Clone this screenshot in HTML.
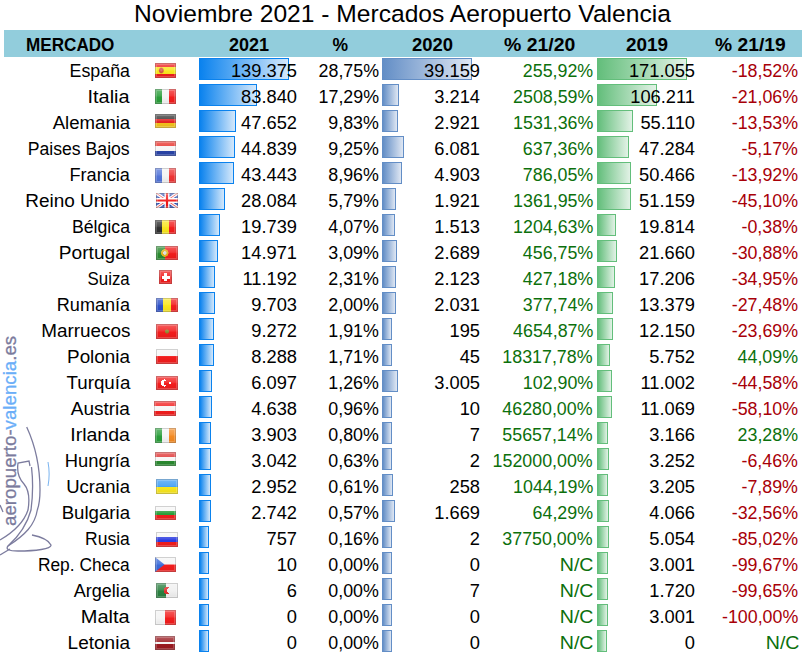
<!DOCTYPE html>
<html><head><meta charset="utf-8"><style>
html,body{margin:0;padding:0;background:#fff;}
body{width:806px;height:660px;position:relative;overflow:hidden;font-family:"Liberation Sans",sans-serif;color:#000;}
.t{position:absolute;white-space:nowrap;line-height:20px;font-size:18.3px;text-align:right;}
.g{color:#0c700c;}
.d{color:#a80008;}
.hd{position:absolute;left:4px;top:30px;width:798px;height:27px;background:#92cddc;}
.h{position:absolute;white-space:nowrap;font-weight:bold;font-size:17.5px;line-height:20px;top:35px;transform-origin:0 0;}
.b1,.b2,.b3{position:absolute;height:20px;border:1px solid;}
.b1{border-color:#0a82ee;background:linear-gradient(to right,#0a82ee,#d4e8fb);}
.b2{border-color:#638ec6;background:linear-gradient(to right,#638ec6,#dfe7f3);}
.b3{border-color:#63be7b;background:linear-gradient(to right,#63be7b,#e2f2e6);}
.f{position:absolute;box-sizing:border-box;}
.f:after{content:"";position:absolute;left:0;top:0;right:0;bottom:0;background:linear-gradient(to bottom,rgba(255,255,255,.3) 0,rgba(255,255,255,.12) 45%,rgba(0,0,0,0) 55%,rgba(0,0,0,.06) 100%);box-shadow:inset 0 0 0 1px rgba(0,0,0,.16),inset 0 0 0 2px rgba(255,255,255,.2);}
.wm{position:absolute;left:-85px;top:421px;-webkit-text-stroke:0.3px currentColor;width:190px;height:20px;line-height:20px;font-size:18.7px;transform:rotate(-90deg);transform-origin:50% 50%;color:#7b7b9d;white-space:nowrap;}
</style></head><body>

<svg style="position:absolute;left:0;top:0" width="70" height="600" viewBox="0 0 70 600"><g fill="none" stroke="#7c7c9e" stroke-width="1.3"><path d="M26.7,427 C35,445 40,465 40,490 C40,498 39.5,504 37.3,510 C35,525 25,535 8,546 Q4,551 18,551 C35,551 52,549 51,545 C49,541 42,537 32,535"/><path d="M30,466 L29,461 L18,463 C17,470 18,478 24,484 C29,490 30,498 28,510 C24,522 12,533 0,540"/><path d="M31.5,467 C33,480 33,495 31,510 C27,525 18,537 8,546"/><path d="M10,549 L0,555"/><path d="M0,505 L3,512"/></g><path d="M48,462 C49.5,470 49.5,478 48,486" fill="none" stroke="#7ab4f0" stroke-width="1"/></svg>
<div class="wm">aeropuerto-<span style="color:#6aaef8">valencia</span>.es</div>
<div class="t" style="left:134px;top:0px;font-size:24.5px;line-height:28px;text-align:left;transform:scaleX(1.004);transform-origin:0 0;">Noviembre 2021 - Mercados Aeropuerto Valencia</div>
<div class="hd"></div>
<div class="h" style="left:26px;transform:scaleX(0.978)">MERCADO</div>
<div class="h" style="left:229px;transform:scaleX(1.03)">2021</div>
<div class="h" style="left:332.5px;transform:scaleX(1.0)">%</div>
<div class="h" style="left:412px;transform:scaleX(1.054)">2020</div>
<div class="h" style="left:504px;transform:scaleX(1.11)">% 21/20</div>
<div class="h" style="left:625.5px;transform:scaleX(1.08)">2019</div>
<div class="h" style="left:714.7px;transform:scaleX(1.1)">% 21/19</div>
<div class="b1" style="left:199px;top:58px;width:88px"></div>
<div class="b2" style="left:382px;top:58px;width:88px"></div>
<div class="b3" style="left:597px;top:58px;width:88px"></div>
<div class="t " style="right:676px;top:61px;transform:scaleX(0.975);transform-origin:100% 0">España</div>
<div class="t " style="right:509px;top:61px;">139.375</div>
<div class="t " style="right:427px;top:61px;transform:scaleX(0.975);transform-origin:100% 0">28,75%</div>
<div class="t " style="right:326px;top:61px;">39.159</div>
<div class="t g" style="right:213px;top:61px;transform:scaleX(0.975);transform-origin:100% 0">255,92%</div>
<div class="t " style="right:111px;top:61px;">171.055</div>
<div class="t d" style="right:8px;top:61px;transform:scaleX(0.975);transform-origin:100% 0">-18,52%</div>
<div class="f" style="left:155px;top:63px;width:21px;height:15px;background:radial-gradient(ellipse 3px 3.5px at 30% 50%,#e07060 0,#d05040 60%,transparent 100%),linear-gradient(to bottom,#ee1c1c 0,#ee1c1c 27%,#f8e620 27%,#f8e620 73%,#ee1c1c 73%)"></div>
<div class="b1" style="left:199px;top:84px;width:56px"></div>
<div class="b2" style="left:382px;top:84px;width:15px"></div>
<div class="b3" style="left:597px;top:84px;width:58px"></div>
<div class="t " style="right:676px;top:87px;transform:scaleX(1.089);transform-origin:100% 0">Italia</div>
<div class="t " style="right:509px;top:87px;">83.840</div>
<div class="t " style="right:427px;top:87px;transform:scaleX(0.975);transform-origin:100% 0">17,29%</div>
<div class="t " style="right:326px;top:87px;">3.214</div>
<div class="t g" style="right:213px;top:87px;transform:scaleX(0.975);transform-origin:100% 0">2508,59%</div>
<div class="t " style="right:111px;top:87px;">106.211</div>
<div class="t d" style="right:8px;top:87px;transform:scaleX(0.975);transform-origin:100% 0">-21,06%</div>
<div class="f" style="left:155px;top:89px;width:21px;height:15px;background:linear-gradient(to right,#2a9e3a 0.0%,#2a9e3a 33.3%,#f4f4f4 33.3%,#f4f4f4 66.7%,#f21d1d 66.7%,#f21d1d 100.0%)"></div>
<div class="b1" style="left:199px;top:110px;width:35px"></div>
<div class="b2" style="left:382px;top:110px;width:14px"></div>
<div class="b3" style="left:597px;top:110px;width:34px"></div>
<div class="t " style="right:676px;top:113px;transform:scaleX(1.018);transform-origin:100% 0">Alemania</div>
<div class="t " style="right:509px;top:113px;">47.652</div>
<div class="t " style="right:427px;top:113px;transform:scaleX(0.975);transform-origin:100% 0">9,83%</div>
<div class="t " style="right:326px;top:113px;">2.921</div>
<div class="t g" style="right:213px;top:113px;transform:scaleX(0.975);transform-origin:100% 0">1531,36%</div>
<div class="t " style="right:111px;top:113px;">55.110</div>
<div class="t d" style="right:8px;top:113px;transform:scaleX(0.975);transform-origin:100% 0">-13,53%</div>
<div class="f" style="left:155px;top:114px;width:21px;height:14px;background:linear-gradient(to bottom,#383838 0.0%,#383838 33.3%,#e42222 33.3%,#e42222 66.7%,#f2c21c 66.7%,#f2c21c 100.0%)"></div>
<div class="b1" style="left:199px;top:136px;width:34px"></div>
<div class="b2" style="left:382px;top:136px;width:20px"></div>
<div class="b3" style="left:597px;top:136px;width:30px"></div>
<div class="t " style="right:676px;top:139px;transform:scaleX(0.965);transform-origin:100% 0">Paises Bajos</div>
<div class="t " style="right:509px;top:139px;">44.839</div>
<div class="t " style="right:427px;top:139px;transform:scaleX(0.975);transform-origin:100% 0">9,25%</div>
<div class="t " style="right:326px;top:139px;">6.081</div>
<div class="t g" style="right:213px;top:139px;transform:scaleX(0.975);transform-origin:100% 0">637,36%</div>
<div class="t " style="right:111px;top:139px;">47.284</div>
<div class="t d" style="right:8px;top:139px;transform:scaleX(0.975);transform-origin:100% 0">-5,17%</div>
<div class="f" style="left:155px;top:141px;width:21px;height:15px;background:linear-gradient(to bottom,#e8302a 0.0%,#e8302a 33.3%,#f6f6f6 33.3%,#f6f6f6 66.7%,#2a44a8 66.7%,#2a44a8 100.0%)"></div>
<div class="b1" style="left:199px;top:162px;width:33px"></div>
<div class="b2" style="left:382px;top:162px;width:18px"></div>
<div class="b3" style="left:597px;top:162px;width:32px"></div>
<div class="t " style="right:676px;top:165px;transform:scaleX(0.992);transform-origin:100% 0">Francia</div>
<div class="t " style="right:509px;top:165px;">43.443</div>
<div class="t " style="right:427px;top:165px;transform:scaleX(0.975);transform-origin:100% 0">8,96%</div>
<div class="t " style="right:326px;top:165px;">4.903</div>
<div class="t g" style="right:213px;top:165px;transform:scaleX(0.975);transform-origin:100% 0">786,05%</div>
<div class="t " style="right:111px;top:165px;">50.466</div>
<div class="t d" style="right:8px;top:165px;transform:scaleX(0.975);transform-origin:100% 0">-13,92%</div>
<div class="f" style="left:155px;top:168px;width:21px;height:15px;background:linear-gradient(to right,#5274d8 0.0%,#5274d8 33.3%,#f2f2f2 33.3%,#f2f2f2 66.7%,#ee3434 66.7%,#ee3434 100.0%)"></div>
<div class="b1" style="left:199px;top:188px;width:24px"></div>
<div class="b2" style="left:382px;top:188px;width:12px"></div>
<div class="b3" style="left:597px;top:188px;width:32px"></div>
<div class="t " style="right:676px;top:191px;transform:scaleX(1.038);transform-origin:100% 0">Reino Unido</div>
<div class="t " style="right:509px;top:191px;">28.084</div>
<div class="t " style="right:427px;top:191px;transform:scaleX(0.975);transform-origin:100% 0">5,79%</div>
<div class="t " style="right:326px;top:191px;">1.921</div>
<div class="t g" style="right:213px;top:191px;transform:scaleX(0.975);transform-origin:100% 0">1361,95%</div>
<div class="t " style="right:111px;top:191px;">51.159</div>
<div class="t d" style="right:8px;top:191px;transform:scaleX(0.975);transform-origin:100% 0">-45,10%</div>
<div class="f" style="left:156px;top:193px;width:22px;height:15px;"><svg width="22" height="15" style="position:absolute;left:0;top:0"><rect width="22" height="15" fill="#2a4ab0"/><path d="M0,0 L22,15 M22,0 L0,15" stroke="#fff" stroke-width="3.2"/><path d="M0,0 L22,15 M22,0 L0,15" stroke="#f06060" stroke-width="1"/><path d="M11,0 V15 M0,7.5 H22" stroke="#fff" stroke-width="5"/><path d="M11,0 V15 M0,7.5 H22" stroke="#f01818" stroke-width="2.2"/></svg></div>
<div class="b1" style="left:199px;top:214px;width:19px"></div>
<div class="b2" style="left:382px;top:214px;width:11px"></div>
<div class="b3" style="left:597px;top:214px;width:17px"></div>
<div class="t " style="right:676px;top:217px;transform:scaleX(0.967);transform-origin:100% 0">Bélgica</div>
<div class="t " style="right:509px;top:217px;">19.739</div>
<div class="t " style="right:427px;top:217px;transform:scaleX(0.975);transform-origin:100% 0">4,07%</div>
<div class="t " style="right:326px;top:217px;">1.513</div>
<div class="t g" style="right:213px;top:217px;transform:scaleX(0.975);transform-origin:100% 0">1204,63%</div>
<div class="t " style="right:111px;top:217px;">19.814</div>
<div class="t d" style="right:8px;top:217px;transform:scaleX(0.975);transform-origin:100% 0">-0,38%</div>
<div class="f" style="left:155px;top:220px;width:21px;height:14px;background:linear-gradient(to right,#303030 0.0%,#303030 33.3%,#f8e61e 33.3%,#f8e61e 66.7%,#f21d1d 66.7%,#f21d1d 100.0%)"></div>
<div class="b1" style="left:199px;top:240px;width:17px"></div>
<div class="b2" style="left:382px;top:240px;width:13px"></div>
<div class="b3" style="left:597px;top:240px;width:18px"></div>
<div class="t " style="right:676px;top:243px;transform:scaleX(1.046);transform-origin:100% 0">Portugal</div>
<div class="t " style="right:509px;top:243px;">14.971</div>
<div class="t " style="right:427px;top:243px;transform:scaleX(0.975);transform-origin:100% 0">3,09%</div>
<div class="t " style="right:326px;top:243px;">2.689</div>
<div class="t g" style="right:213px;top:243px;transform:scaleX(0.975);transform-origin:100% 0">456,75%</div>
<div class="t " style="right:111px;top:243px;">21.660</div>
<div class="t d" style="right:8px;top:243px;transform:scaleX(0.975);transform-origin:100% 0">-30,88%</div>
<div class="f" style="left:156px;top:246px;width:22px;height:14px;background:radial-gradient(circle at 40% 50%,#ddd 0,#ddd 1.5px,#e0b020 2px,#e0b020 3.5px,transparent 4px),linear-gradient(to right,#2a8a30 0,#2a8a30 40%,#f01c1c 40%)"></div>
<div class="b1" style="left:199px;top:266px;width:14px"></div>
<div class="b2" style="left:382px;top:266px;width:12px"></div>
<div class="b3" style="left:597px;top:266px;width:16px"></div>
<div class="t " style="right:676px;top:269px;transform:scaleX(0.922);transform-origin:100% 0">Suiza</div>
<div class="t " style="right:509px;top:269px;">11.192</div>
<div class="t " style="right:427px;top:269px;transform:scaleX(0.975);transform-origin:100% 0">2,31%</div>
<div class="t " style="right:326px;top:269px;">2.123</div>
<div class="t g" style="right:213px;top:269px;transform:scaleX(0.975);transform-origin:100% 0">427,18%</div>
<div class="t " style="right:111px;top:269px;">17.206</div>
<div class="t d" style="right:8px;top:269px;transform:scaleX(0.975);transform-origin:100% 0">-34,95%</div>
<div class="f" style="left:159px;top:270px;width:13px;height:14px;background:linear-gradient(#fff,#fff) center/8px 3px no-repeat,linear-gradient(#fff,#fff) center/3px 8px no-repeat,#f01c1c"></div>
<div class="b1" style="left:199px;top:292px;width:14px"></div>
<div class="b2" style="left:382px;top:292px;width:12px"></div>
<div class="b3" style="left:597px;top:292px;width:14px"></div>
<div class="t " style="right:676px;top:295px;transform:scaleX(0.989);transform-origin:100% 0">Rumanía</div>
<div class="t " style="right:509px;top:295px;">9.703</div>
<div class="t " style="right:427px;top:295px;transform:scaleX(0.975);transform-origin:100% 0">2,00%</div>
<div class="t " style="right:326px;top:295px;">2.031</div>
<div class="t g" style="right:213px;top:295px;transform:scaleX(0.975);transform-origin:100% 0">377,74%</div>
<div class="t " style="right:111px;top:295px;">13.379</div>
<div class="t d" style="right:8px;top:295px;transform:scaleX(0.975);transform-origin:100% 0">-27,48%</div>
<div class="f" style="left:156px;top:298px;width:22px;height:14px;background:linear-gradient(to right,#2c50c8 0.0%,#2c50c8 33.3%,#f8e61e 33.3%,#f8e61e 66.7%,#f21d1d 66.7%,#f21d1d 100.0%)"></div>
<div class="b1" style="left:199px;top:318px;width:13px"></div>
<div class="b2" style="left:382px;top:318px;width:8px"></div>
<div class="b3" style="left:597px;top:318px;width:14px"></div>
<div class="t " style="right:676px;top:321px;transform:scaleX(1.033);transform-origin:100% 0">Marruecos</div>
<div class="t " style="right:509px;top:321px;">9.272</div>
<div class="t " style="right:427px;top:321px;transform:scaleX(0.975);transform-origin:100% 0">1,91%</div>
<div class="t " style="right:326px;top:321px;">195</div>
<div class="t g" style="right:213px;top:321px;transform:scaleX(0.975);transform-origin:100% 0">4654,87%</div>
<div class="t " style="right:111px;top:321px;">12.150</div>
<div class="t d" style="right:8px;top:321px;transform:scaleX(0.975);transform-origin:100% 0">-23,69%</div>
<div class="f" style="left:156px;top:324px;width:22px;height:15px;background:radial-gradient(circle at 50% 50%,#8a8a30 0,#8a8a30 1.5px,transparent 2.5px),#f21d1d"></div>
<div class="b1" style="left:199px;top:344px;width:13px"></div>
<div class="b2" style="left:382px;top:344px;width:8px"></div>
<div class="b3" style="left:597px;top:344px;width:11px"></div>
<div class="t " style="right:676px;top:347px;transform:scaleX(1.032);transform-origin:100% 0">Polonia</div>
<div class="t " style="right:509px;top:347px;">8.288</div>
<div class="t " style="right:427px;top:347px;transform:scaleX(0.975);transform-origin:100% 0">1,71%</div>
<div class="t " style="right:326px;top:347px;">45</div>
<div class="t g" style="right:213px;top:347px;transform:scaleX(0.975);transform-origin:100% 0">18317,78%</div>
<div class="t " style="right:111px;top:347px;">5.752</div>
<div class="t g" style="right:8px;top:347px;transform:scaleX(0.975);transform-origin:100% 0">44,09%</div>
<div class="f" style="left:156px;top:349px;width:22px;height:15px;background:linear-gradient(to bottom,#f6f6f6 0.0%,#f6f6f6 50.0%,#f21d1d 50.0%,#f21d1d 100.0%)"></div>
<div class="b1" style="left:199px;top:370px;width:11px"></div>
<div class="b2" style="left:382px;top:370px;width:14px"></div>
<div class="b3" style="left:597px;top:370px;width:13px"></div>
<div class="t " style="right:676px;top:373px;transform:scaleX(1.024);transform-origin:100% 0">Turquía</div>
<div class="t " style="right:509px;top:373px;">6.097</div>
<div class="t " style="right:427px;top:373px;transform:scaleX(0.975);transform-origin:100% 0">1,26%</div>
<div class="t " style="right:326px;top:373px;">3.005</div>
<div class="t g" style="right:213px;top:373px;transform:scaleX(0.975);transform-origin:100% 0">102,90%</div>
<div class="t " style="right:111px;top:373px;">11.002</div>
<div class="t d" style="right:8px;top:373px;transform:scaleX(0.975);transform-origin:100% 0">-44,58%</div>
<div class="f" style="left:156px;top:376px;width:22px;height:14px;background:radial-gradient(circle 2.6px at 47% 50%,#f21d1d 0,#f21d1d 99%,transparent 100%),radial-gradient(circle 3.6px at 38% 50%,#fff 0,#fff 99%,transparent 100%),radial-gradient(circle 1.3px at 64% 50%,#fff 0,#fff 99%,transparent 100%),#f21d1d"></div>
<div class="b1" style="left:199px;top:396px;width:11px"></div>
<div class="b2" style="left:382px;top:396px;width:8px"></div>
<div class="b3" style="left:597px;top:396px;width:13px"></div>
<div class="t " style="right:676px;top:399px;transform:scaleX(1.039);transform-origin:100% 0">Austria</div>
<div class="t " style="right:509px;top:399px;">4.638</div>
<div class="t " style="right:427px;top:399px;transform:scaleX(0.975);transform-origin:100% 0">0,96%</div>
<div class="t " style="right:326px;top:399px;">10</div>
<div class="t g" style="right:213px;top:399px;transform:scaleX(0.975);transform-origin:100% 0">46280,00%</div>
<div class="t " style="right:111px;top:399px;">11.069</div>
<div class="t d" style="right:8px;top:399px;transform:scaleX(0.975);transform-origin:100% 0">-58,10%</div>
<div class="f" style="left:154px;top:401px;width:22px;height:15px;background:linear-gradient(to bottom,#f21d1d 0.0%,#f21d1d 33.3%,#f6f6f6 33.3%,#f6f6f6 66.7%,#f21d1d 66.7%,#f21d1d 100.0%)"></div>
<div class="b1" style="left:199px;top:422px;width:10px"></div>
<div class="b2" style="left:382px;top:422px;width:8px"></div>
<div class="b3" style="left:597px;top:422px;width:9px"></div>
<div class="t " style="right:676px;top:425px;transform:scaleX(1.067);transform-origin:100% 0">Irlanda</div>
<div class="t " style="right:509px;top:425px;">3.903</div>
<div class="t " style="right:427px;top:425px;transform:scaleX(0.975);transform-origin:100% 0">0,80%</div>
<div class="t " style="right:326px;top:425px;">7</div>
<div class="t g" style="right:213px;top:425px;transform:scaleX(0.975);transform-origin:100% 0">55657,14%</div>
<div class="t " style="right:111px;top:425px;">3.166</div>
<div class="t g" style="right:8px;top:425px;transform:scaleX(0.975);transform-origin:100% 0">23,28%</div>
<div class="f" style="left:155px;top:428px;width:21px;height:15px;background:linear-gradient(to right,#2a9e3a 0.0%,#2a9e3a 33.3%,#f4f4f4 33.3%,#f4f4f4 66.7%,#f48a22 66.7%,#f48a22 100.0%)"></div>
<div class="b1" style="left:199px;top:448px;width:10px"></div>
<div class="b2" style="left:382px;top:448px;width:8px"></div>
<div class="b3" style="left:597px;top:448px;width:10px"></div>
<div class="t " style="right:676px;top:451px;transform:scaleX(1.003);transform-origin:100% 0">Hungría</div>
<div class="t " style="right:509px;top:451px;">3.042</div>
<div class="t " style="right:427px;top:451px;transform:scaleX(0.975);transform-origin:100% 0">0,63%</div>
<div class="t " style="right:326px;top:451px;">2</div>
<div class="t g" style="right:213px;top:451px;transform:scaleX(0.975);transform-origin:100% 0">152000,00%</div>
<div class="t " style="right:111px;top:451px;">3.252</div>
<div class="t d" style="right:8px;top:451px;transform:scaleX(0.975);transform-origin:100% 0">-6,46%</div>
<div class="f" style="left:155px;top:452px;width:21px;height:14px;background:linear-gradient(to bottom,#e03434 0.0%,#e03434 33.3%,#f6f6f6 33.3%,#f6f6f6 66.7%,#2a8a30 66.7%,#2a8a30 100.0%)"></div>
<div class="b1" style="left:199px;top:474px;width:10px"></div>
<div class="b2" style="left:382px;top:474px;width:9px"></div>
<div class="b3" style="left:597px;top:474px;width:9px"></div>
<div class="t " style="right:676px;top:477px;transform:scaleX(1.013);transform-origin:100% 0">Ucrania</div>
<div class="t " style="right:509px;top:477px;">2.952</div>
<div class="t " style="right:427px;top:477px;transform:scaleX(0.975);transform-origin:100% 0">0,61%</div>
<div class="t " style="right:326px;top:477px;">258</div>
<div class="t g" style="right:213px;top:477px;transform:scaleX(0.975);transform-origin:100% 0">1044,19%</div>
<div class="t " style="right:111px;top:477px;">3.205</div>
<div class="t d" style="right:8px;top:477px;transform:scaleX(0.975);transform-origin:100% 0">-7,89%</div>
<div class="f" style="left:156px;top:479px;width:22px;height:15px;background:linear-gradient(to bottom,#3c9cf4 0.0%,#3c9cf4 50.0%,#f8e61e 50.0%,#f8e61e 100.0%)"></div>
<div class="b1" style="left:199px;top:500px;width:10px"></div>
<div class="b2" style="left:382px;top:500px;width:11px"></div>
<div class="b3" style="left:597px;top:500px;width:10px"></div>
<div class="t " style="right:676px;top:503px;transform:scaleX(1.02);transform-origin:100% 0">Bulgaria</div>
<div class="t " style="right:509px;top:503px;">2.742</div>
<div class="t " style="right:427px;top:503px;transform:scaleX(0.975);transform-origin:100% 0">0,57%</div>
<div class="t " style="right:326px;top:503px;">1.669</div>
<div class="t g" style="right:213px;top:503px;transform:scaleX(0.975);transform-origin:100% 0">64,29%</div>
<div class="t " style="right:111px;top:503px;">4.066</div>
<div class="t d" style="right:8px;top:503px;transform:scaleX(0.975);transform-origin:100% 0">-32,56%</div>
<div class="f" style="left:155px;top:506px;width:21px;height:14px;background:linear-gradient(to bottom,#f6f6f6 0.0%,#f6f6f6 33.3%,#2a9e3a 33.3%,#2a9e3a 66.7%,#f21d1d 66.7%,#f21d1d 100.0%)"></div>
<div class="b1" style="left:199px;top:526px;width:8px"></div>
<div class="b2" style="left:382px;top:526px;width:8px"></div>
<div class="b3" style="left:597px;top:526px;width:10px"></div>
<div class="t " style="right:676px;top:529px;transform:scaleX(0.956);transform-origin:100% 0">Rusia</div>
<div class="t " style="right:509px;top:529px;">757</div>
<div class="t " style="right:427px;top:529px;transform:scaleX(0.975);transform-origin:100% 0">0,16%</div>
<div class="t " style="right:326px;top:529px;">2</div>
<div class="t g" style="right:213px;top:529px;transform:scaleX(0.975);transform-origin:100% 0">37750,00%</div>
<div class="t " style="right:111px;top:529px;">5.054</div>
<div class="t d" style="right:8px;top:529px;transform:scaleX(0.975);transform-origin:100% 0">-85,02%</div>
<div class="f" style="left:156px;top:532px;width:22px;height:15px;background:linear-gradient(to bottom,#f6f6f6 0.0%,#f6f6f6 33.3%,#2c3ce0 33.3%,#2c3ce0 66.7%,#f21d1d 66.7%,#f21d1d 100.0%)"></div>
<div class="b1" style="left:199px;top:552px;width:8px"></div>
<div class="b2" style="left:382px;top:552px;width:8px"></div>
<div class="b3" style="left:597px;top:552px;width:9px"></div>
<div class="t " style="right:676px;top:555px;transform:scaleX(0.949);transform-origin:100% 0">Rep. Checa</div>
<div class="t " style="right:509px;top:555px;">10</div>
<div class="t " style="right:427px;top:555px;transform:scaleX(0.975);transform-origin:100% 0">0,00%</div>
<div class="t " style="right:326px;top:555px;">0</div>
<div class="t g" style="right:213px;top:555px;transform:scaleX(1.07);transform-origin:100% 0">N/C</div>
<div class="t " style="right:111px;top:555px;">3.001</div>
<div class="t d" style="right:8px;top:555px;transform:scaleX(0.975);transform-origin:100% 0">-99,67%</div>
<div class="f" style="left:155px;top:557px;width:21px;height:15px;"><svg width="21" height="15" style="position:absolute;left:0;top:0"><rect width="21" height="7.5" fill="#f4f4f4"/><rect y="7.5" width="21" height="7.5" fill="#f21d1d"/><path d="M0,0 L9.5,7.5 L0,15 Z" fill="#3a6ad8"/></svg></div>
<div class="b1" style="left:199px;top:578px;width:8px"></div>
<div class="b2" style="left:382px;top:578px;width:8px"></div>
<div class="b3" style="left:597px;top:578px;width:9px"></div>
<div class="t " style="right:676px;top:581px;transform:scaleX(0.989);transform-origin:100% 0">Argelia</div>
<div class="t " style="right:509px;top:581px;">6</div>
<div class="t " style="right:427px;top:581px;transform:scaleX(0.975);transform-origin:100% 0">0,00%</div>
<div class="t " style="right:326px;top:581px;">7</div>
<div class="t g" style="right:213px;top:581px;transform:scaleX(1.07);transform-origin:100% 0">N/C</div>
<div class="t " style="right:111px;top:581px;">1.720</div>
<div class="t d" style="right:8px;top:581px;transform:scaleX(0.975);transform-origin:100% 0">-99,65%</div>
<div class="f" style="left:156px;top:583px;width:22px;height:15px;background:radial-gradient(circle 2.2px at 60% 50%,#f0f0f0 0,#f0f0f0 99%,transparent 100%),radial-gradient(circle 3.6px at 52% 50%,#e03030 0,#e03030 99%,transparent 100%),linear-gradient(to right,#2a8040 0,#2a8040 47%,#f0f0f0 47%)"></div>
<div class="b1" style="left:199px;top:604px;width:8px"></div>
<div class="b2" style="left:382px;top:604px;width:8px"></div>
<div class="b3" style="left:597px;top:604px;width:9px"></div>
<div class="t " style="right:676px;top:607px;transform:scaleX(1.093);transform-origin:100% 0">Malta</div>
<div class="t " style="right:509px;top:607px;">0</div>
<div class="t " style="right:427px;top:607px;transform:scaleX(0.975);transform-origin:100% 0">0,00%</div>
<div class="t " style="right:326px;top:607px;">0</div>
<div class="t g" style="right:213px;top:607px;transform:scaleX(1.07);transform-origin:100% 0">N/C</div>
<div class="t " style="right:111px;top:607px;">3.001</div>
<div class="t d" style="right:8px;top:607px;transform:scaleX(0.975);transform-origin:100% 0">-100,00%</div>
<div class="f" style="left:155px;top:610px;width:21px;height:15px;background:linear-gradient(to right,#f4f4f4 0.0%,#f4f4f4 50.0%,#f21d1d 50.0%,#f21d1d 100.0%)"></div>
<div class="b1" style="left:199px;top:630px;width:8px"></div>
<div class="b2" style="left:382px;top:630px;width:8px"></div>
<div class="b3" style="left:597px;top:630px;width:8px"></div>
<div class="t " style="right:676px;top:633px;transform:scaleX(1.04);transform-origin:100% 0">Letonia</div>
<div class="t " style="right:509px;top:633px;">0</div>
<div class="t " style="right:427px;top:633px;transform:scaleX(0.975);transform-origin:100% 0">0,00%</div>
<div class="t " style="right:326px;top:633px;">0</div>
<div class="t g" style="right:213px;top:633px;transform:scaleX(1.07);transform-origin:100% 0">N/C</div>
<div class="t " style="right:111px;top:633px;">0</div>
<div class="t g" style="right:7px;top:633px;transform:scaleX(1.07);transform-origin:100% 0">N/C</div>
<div class="f" style="left:155px;top:636px;width:20px;height:14px;background:linear-gradient(to bottom,#9a1a20 0,#9a1a20 40%,#f4f4f4 40%,#f4f4f4 60%,#9a1a20 60%)"></div>
</body></html>
